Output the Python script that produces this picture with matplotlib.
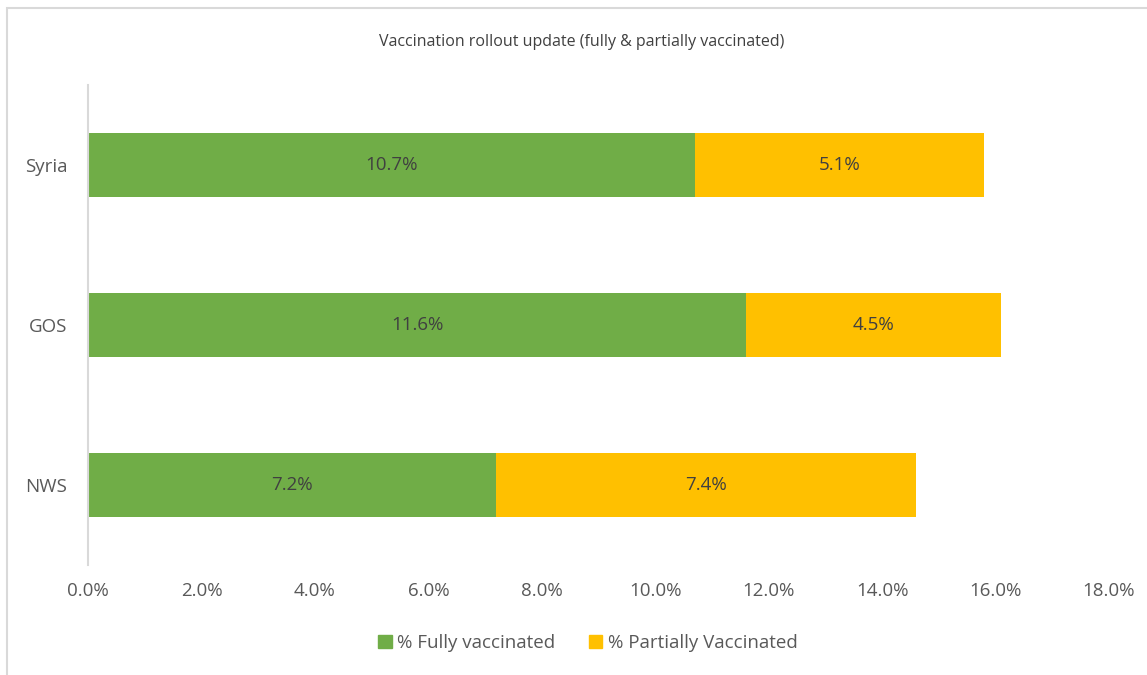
import matplotlib.pyplot as plt
from matplotlib.patches import Rectangle, Patch
from matplotlib.ticker import FuncFormatter

# chart data
regions = ['NWS', 'GOS', 'Syria']
fully = [7.2, 11.6, 10.7]
partially = [7.4, 4.5, 5.1]
series_names = ['% Fully vaccinated', '% Partially Vaccinated']
colors = ['#70AD47', '#FFC000']

plt.rcParams['font.family'] = ['Open Sans', 'DejaVu Sans']

W, H = 1147, 675
fig = plt.figure(figsize=(W / 100, H / 100), dpi=100)
ax = fig.add_axes([88 / W, (H - 565) / H, (1109 - 88) / W, (565 - 85) / H])

# outer chart frame (cut off at right and bottom as in the screenshot)
fig.patches.append(Rectangle((7 / W, -0.1), 1.2, (H - 8) / H + 0.1,
                             transform=fig.transFigure, fill=False,
                             edgecolor='#D9D9D9', linewidth=1.5))

y = range(len(regions))
ax.barh(y, fully, height=0.4, color=colors[0], label=series_names[0])
ax.barh(y, partially, left=fully, height=0.4, color=colors[1], label=series_names[1])

for i in y:
    ax.text(fully[i] / 2, i, f'{fully[i]:.1f}%', ha='center', va='center',
            fontsize=13.5, color='#404040')
    ax.text(fully[i] + partially[i] / 2, i, f'{partially[i]:.1f}%', ha='center',
            va='center', fontsize=13.5, color='#404040')

ax.set_xlim(0, 18)
ax.set_ylim(-0.5, 2.5)
ax.set_xticks(range(0, 19, 2))
ax.xaxis.set_major_formatter(FuncFormatter(lambda v, p: f'{v:.1f}%'))
ax.set_yticks(list(y))
ax.set_yticklabels(regions)
ax.tick_params(axis='both', length=0, labelsize=13.5, labelcolor='#595959')
ax.tick_params(axis='x', pad=12)
ax.tick_params(axis='y', pad=15)
for s in ['top', 'right', 'bottom']:
    ax.spines[s].set_visible(False)
ax.spines['left'].set_color('#D9D9D9')
ax.spines['left'].set_linewidth(1.5)

fig.text(582 / W, 1 - 42 / H, 'Vaccination rollout update (fully & partially vaccinated)',
         ha='center', va='center', fontsize=11.5, color='#404040')

handles = [Patch(color=c) for c in colors]
fig.legend(handles, series_names, loc='center', bbox_to_anchor=(588 / W, 1 - 643 / H),
           ncol=2, frameon=False, fontsize=13.5, labelcolor='#595959',
           handlelength=0.7, handleheight=0.7, handletextpad=0.3, columnspacing=1.8)

fig.savefig('out.png', dpi=100)
